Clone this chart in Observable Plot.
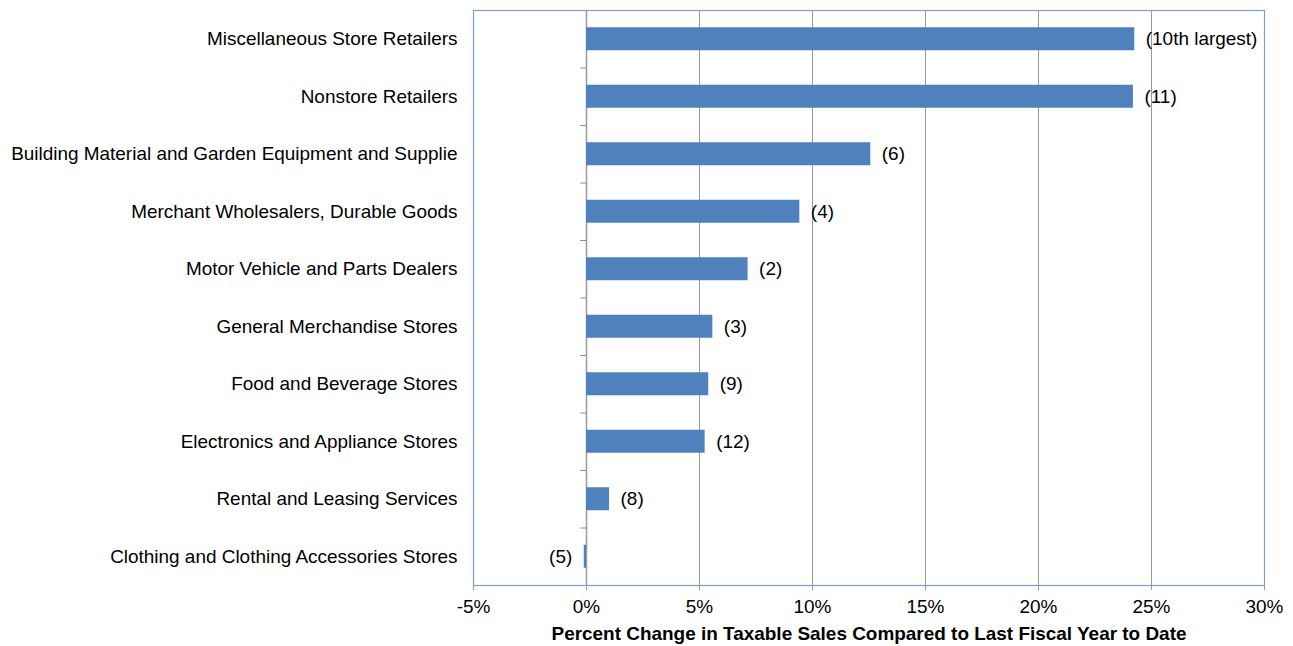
<!DOCTYPE html>
<html>
<head>
<meta charset="utf-8">
<script src="https://cdn.jsdelivr.net/npm/d3@7"></script>
<script src="https://cdn.jsdelivr.net/npm/@observablehq/plot@0.6"></script>
<style>
  html, body { margin: 0; padding: 0; background: #fff; }
  svg { font-family: "Liberation Sans", Arial, sans-serif; }
</style>
</head>
<body>
<div id="chart"></div>
<script>
const categories = [
  "Miscellaneous Store Retailers",
  "Nonstore Retailers",
  "Building Material and Garden Equipment and Supplie",
  "Merchant Wholesalers, Durable Goods",
  "Motor Vehicle and Parts Dealers",
  "General Merchandise Stores",
  "Food and Beverage Stores",
  "Electronics and Appliance Stores",
  "Rental and Leasing Services",
  "Clothing and Clothing Accessories Stores"
];
const values = [24.26, 24.2, 12.58, 9.44, 7.15, 5.59, 5.41, 5.25, 1.02, -0.1];
const rankLabels = ["(10th largest)", "(11)", "(6)", "(4)", "(2)", "(3)", "(9)", "(12)", "(8)", "(5)"];
const xTicks = [-5, 0, 5, 10, 15, 20, 25, 30];

const data = categories.map((c, i) => ({category: c, value: values[i], label: rankLabels[i]}));

const marginTop = 10, marginBottom = 61, height = 646;
const step = (height - marginTop - marginBottom) / categories.length;
const fs = 18.95;

const chart = Plot.plot({
  width: 1293,
  height,
  marginLeft: 473,
  marginRight: 29,
  marginTop,
  marginBottom,
  style: {fontFamily: "'Liberation Sans', Arial, sans-serif", fontSize: fs + "px", color: "#000"},
  x: {domain: [-5, 30], ticks: xTicks, tickFormat: d => d + "%", label: null},
  y: {domain: categories, paddingInner: 0.6, paddingOuter: 0.3, round: false, label: null},
  marks: [
    Plot.gridX(xTicks, {stroke: "#9a9a9a", strokeOpacity: 1, strokeWidth: 1}),
    Plot.ruleX([0], {stroke: "#9a9a9a", strokeWidth: 1.5}),
    Plot.ruleY(categories, {y: d => d, x1: -0.25, x2: 0, dy: -step / 2, stroke: "#8a8a8a"}),
    Plot.barX(data, {y: "category", x: "value", fill: "#4f81bd"}),
    Plot.frame({stroke: "#7f9fd0", strokeWidth: 1.2}),
    Plot.text(data.filter(d => d.value >= 0), {
      y: "category", x: "value", text: "label", textAnchor: "start", dx: 11, fontSize: fs, fill: "#000"
    }),
    Plot.text(data.filter(d => d.value < 0), {
      y: "category", x: "value", text: "label", textAnchor: "end", dx: -12, fontSize: fs, fill: "#000"
    }),
    Plot.axisY({tickSize: 0, tickPadding: 16, fontSize: fs, label: null}),
    Plot.axisX({ticks: xTicks, tickFormat: d => d + "%", tickSize: 5, tickPadding: 9, fontSize: fs, stroke: "#9a9a9a",
      label: "Percent Change in Taxable Sales Compared to Last Fiscal Year to Date", labelAnchor: "center", labelOffset: 54, labelArrow: "none"})
  ]
});

d3.select(chart).selectAll("g[aria-label='x-axis label'] text").style("font-weight", "bold");

document.getElementById("chart").appendChild(chart);
</script>
</body>
</html>
